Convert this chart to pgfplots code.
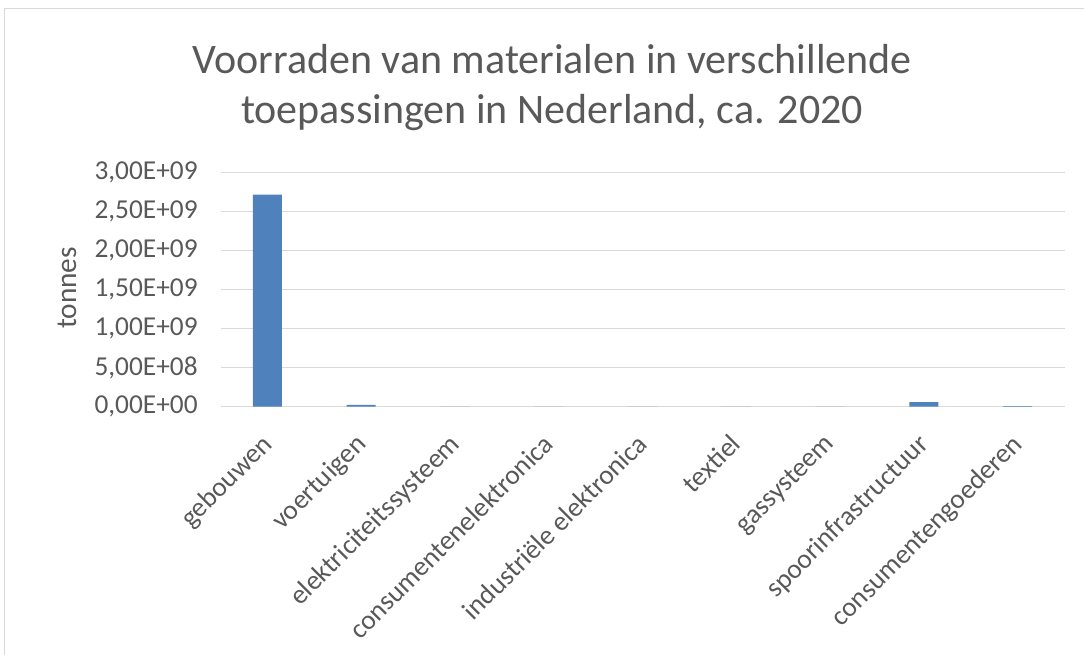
\documentclass[border=0pt]{standalone}
\usepackage{fontspec}
\setmainfont{Carlito}
\usepackage{pgfplots}
\pgfplotsset{compat=1.18}
\definecolor{txt}{HTML}{595959}
\definecolor{grd}{HTML}{D9D9D9}
\definecolor{bar}{HTML}{4F81BD}
\begin{document}
\begin{tikzpicture}
\path[use as bounding box] (0pt,0pt) rectangle (813pt,491.25pt);
\draw[grd,line width=1.2pt] (3.4pt,-10pt) -- (3.4pt,484.9pt) -- (830pt,484.9pt);
\node[txt,anchor=base,inner sep=0pt,font=\fontsize{31.5}{37.5}\selectfont] at (414pt,436pt) {Voorraden van materialen in verschillende};
\node[txt,anchor=base,inner sep=0pt,font=\fontsize{31.5}{37.5}\selectfont] at (414pt,398.5pt) {toepassingen in Nederland, ca. 2020};
\node[txt,rotate=90,font=\fontsize{22}{26}\selectfont] at (50.25pt,275.25pt) {tonnes};
\begin{axis}[
  at={(165.4pt,186.2pt)}, anchor=south west,
  scale only axis, width=633pt, height=175.5pt,
  xmin=-0.5, xmax=8.5, ymin=0, ymax=3e9,
  axis line style={draw=none},
  major tick length=0pt,
  ymajorgrids, grid style={grd,line width=1pt},
  ytick={0,5e8,1e9,1.5e9,2e9,2.5e9,3e9},
  yticklabels={{0,00E+00},{5,00E+08},{1,00E+09},{1,50E+09},{2,00E+09},{2,50E+09},{3,00E+09}},
  scaled y ticks=false,
  xtick={0,...,8},
  xticklabels={gebouwen,voertuigen,elektriciteitssysteem,consumentenelektronica,industriële elektronica,textiel,gassysteem,spoorinfrastructuur,consumentengoederen},
  /pgf/number format/assume math mode=true,
  tick label style={txt,font=\fontsize{20.5}{24}\selectfont},
  yticklabel style={anchor=east,inner sep=0pt,xshift=-17pt},
  xticklabel style={xshift=-5.5pt,yshift=-19pt,rotate=45,anchor=north east,inner sep=0pt},
]
\addplot[ybar,bar width=0.31,fill=bar,draw=none] coordinates {
(0,2.72e9) (1,2.5e7) (2,2e6) (3,3e5) (4,2e5) (5,4e5) (6,1e6) (7,6e7) (8,8e6)
};
\end{axis}
\end{tikzpicture}
\end{document}
